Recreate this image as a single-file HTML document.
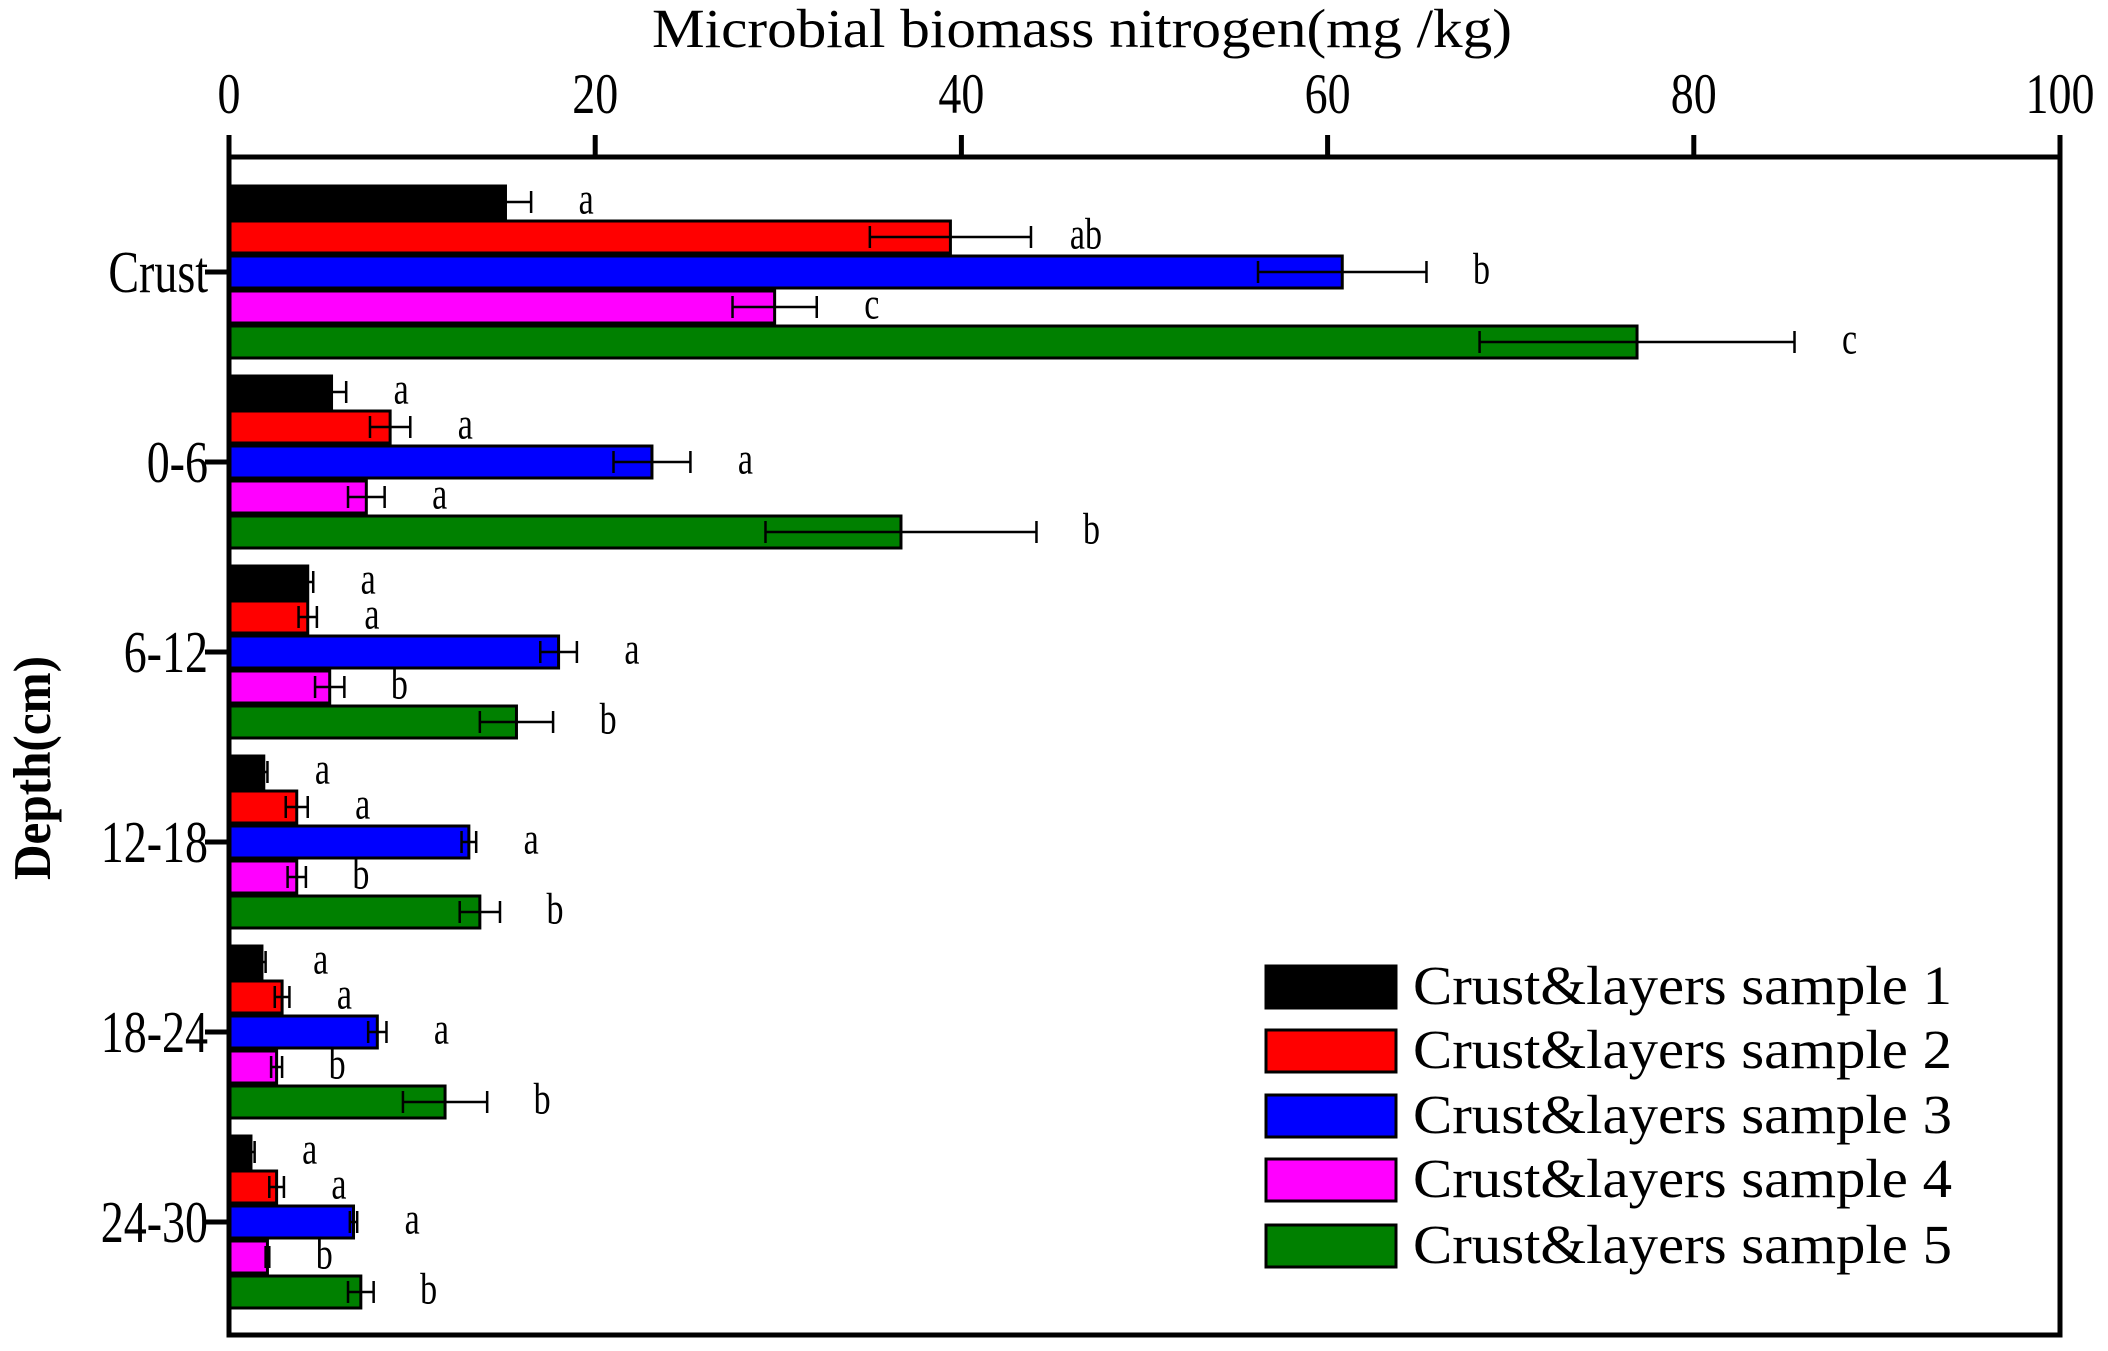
<!DOCTYPE html>
<html><head><meta charset="utf-8">
<style>html,body{margin:0;padding:0;background:#fff;}svg{display:block;}</style>
</head><body>
<svg id="chart" width="2108" height="1351" xmlns="http://www.w3.org/2000/svg" font-family="'Liberation Serif', serif"></svg>
<script>
const categories = ["Crust","0-6","6-12","12-18","18-24","24-30"];
const seriesNames = ["Crust&layers sample 1","Crust&layers sample 2","Crust&layers sample 3","Crust&layers sample 4","Crust&layers sample 5"];
const s1 = [15.1, 5.6, 4.3, 1.9, 1.8, 1.2];
const s2 = [39.4, 8.8, 4.3, 3.7, 2.9, 2.6];
const s3 = [60.8, 23.1, 18.0, 13.1, 8.1, 6.8];
const s4 = [29.8, 7.5, 5.5, 3.7, 2.6, 2.1];
const s5 = [76.9, 36.7, 15.7, 13.7, 11.8, 7.2];
const e1 = [1.4, 0.8, 0.3, 0.2, 0.2, 0.2];
const e2 = [4.4, 1.1, 0.5, 0.6, 0.4, 0.4];
const e3 = [4.6, 2.1, 1.0, 0.4, 0.5, 0.2];
const e4 = [2.3, 1.0, 0.8, 0.5, 0.3, 0.1];
const e5 = [8.6, 7.4, 2.0, 1.1, 2.3, 0.7];
const l1 = ["a","a","a","a","a","a"];
const l2 = ["ab","a","a","a","a","a"];
const l3 = ["b","a","a","a","a","a"];
const l4 = ["c","a","b","b","b","b"];
const l5 = ["c","b","b","b","b","b"];
const xTicks = [0,20,40,60,80,100];

const values=[s1,s2,s3,s4,s5], errs=[e1,e2,e3,e4,e5], letters=[l1,l2,l3,l4,l5];
const colors=["#000000","#ff0000","#0000ff","#ff00ff","#008000"];
const L=229,R=2060,T=157,B=1335;
const x=v=>L+(v/100)*(R-L);
const groupCenter=i=>272+i*190;
const barH=35;
const NS="http://www.w3.org/2000/svg";
const svg=document.getElementById('chart');
function mk(tag,attrs,parent){const e=document.createElementNS(NS,tag);for(const k in attrs)e.setAttribute(k,attrs[k]);(parent||svg).appendChild(e);return e;}
function stretch(px,py,s){return `translate(${px},${py}) scale(1,${s}) translate(${-px},${-py})`;}

let t=mk('text',{x:1082,y:47,'font-size':46,'text-anchor':'middle',textLength:860,lengthAdjust:'spacingAndGlyphs',transform:stretch(1082,47,1.2)});
t.textContent="Microbial biomass nitrogen(mg /kg)";


t=mk('text',{x:0,y:0,'font-size':44,'font-weight':'bold','text-anchor':'middle',transform:'translate(50,768) rotate(-90) scale(1,1.2)',textLength:224,lengthAdjust:'spacingAndGlyphs'});
t.textContent="Depth(cm)";



xTicks.forEach(v=>{
  const ln=mk('line',{x1:x(v),x2:x(v),y1:135,y2:T,stroke:'#000','stroke-width':5});
  
  
  const tx=mk('text',{x:x(v),y:113,'font-size':46,'text-anchor':'middle',transform:stretch(x(v),113,1.25)});
  tx.textContent=v;
  
  
});

categories.forEach((c,i)=>{
  const gc=groupCenter(i);
  const top0=gc-2.5*barH;
  values.forEach((arr,k)=>{
    const y0=top0+k*barH;
    const r=mk('rect',{x:L,y:y0+1.5,width:x(arr[i])-L,height:barH-3,fill:colors[k],stroke:'#000','stroke-width':3});
    
    
    const cy=y0+barH/2, e=errs[k][i];
    const g=mk('g',{stroke:'#000','stroke-width':2.5});
    
    
    mk('line',{x1:x(arr[i]-e),x2:x(arr[i]+e),y1:cy,y2:cy},g);
    mk('line',{x1:x(arr[i]-e),x2:x(arr[i]-e),y1:cy-11,y2:cy+11},g);
    mk('line',{x1:x(arr[i]+e),x2:x(arr[i]+e),y1:cy-11,y2:cy+11},g);
    const lx=x(arr[i]+e)+55, ly=y0+barH-6;
    const lt=mk('text',{x:lx,y:ly,'font-size':34,'text-anchor':'middle',transform:stretch(lx,ly,1.3)});
    lt.textContent=letters[k][i];
    
    
  });
  const tk=mk('line',{x1:205,x2:L,y1:gc,y2:gc,stroke:'#000','stroke-width':5});
  
  
  const tl=mk('text',{x:208,y:gc+20,'font-size':46,'text-anchor':'end',transform:stretch(208,gc+20,1.3)});
  tl.textContent=c;
  
  
});

const fr=mk('rect',{x:L,y:T,width:R-L,height:B-T,fill:'none',stroke:'#000','stroke-width':5});



const legY=[987,1051,1116,1180,1246];
seriesNames.forEach((n,k)=>{
  const g=mk('g',{});
  
  
  mk('rect',{x:1266,y:legY[k]-21,width:130,height:42,fill:colors[k],stroke:'#000','stroke-width':3},g);
  const tx=mk('text',{x:1413,y:legY[k]+17,'font-size':48,textLength:539,lengthAdjust:'spacingAndGlyphs',transform:stretch(1413,legY[k]+17,1.15)},g);
  tx.textContent=n;
});
</script>
</body></html>
